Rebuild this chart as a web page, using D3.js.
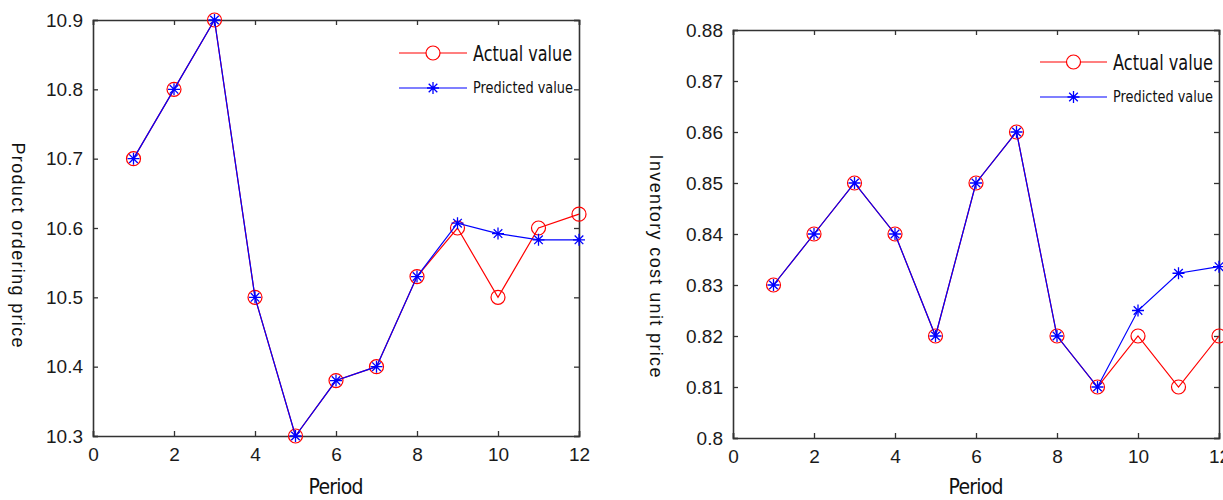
<!DOCTYPE html>
<html><head><meta charset="utf-8">
<script src="https://cdn.jsdelivr.net/npm/d3@7/dist/d3.min.js"></script>
<style>
html,body{margin:0;padding:0;background:#fff;overflow:hidden;}
svg{display:block;}
.tick text{font-family:"Liberation Sans",Arial,sans-serif;font-size:19px;fill:#1a1a1a;}
.lbl{font-family:"Liberation Sans Narrow","DejaVu Sans Condensed",sans-serif;fill:#111;}
</style>
</head><body>
<svg id="c" width="1223" height="500"></svg>
<script>
const periods = [1,2,3,4,5,6,7,8,9,10,11,12];
const orderActual    = [10.7,10.8,10.9,10.5,10.3,10.38,10.4,10.53,10.6,10.5,10.6,10.62];
const orderPredicted = [10.7,10.8,10.9,10.5,10.3,10.38,10.4,10.53,10.607,10.592,10.583,10.583];
const costActual     = [0.83,0.84,0.85,0.84,0.82,0.85,0.86,0.82,0.81,0.82,0.81,0.82];
const costPredicted  = [0.83,0.84,0.85,0.84,0.82,0.85,0.86,0.82,0.81,0.825,0.8323,0.8336];
const xTicks = [0,2,4,6,8,10,12];
const orderTicks = [10.3,10.4,10.5,10.6,10.7,10.8,10.9];
const costTicks = [0.8,0.81,0.82,0.83,0.84,0.85,0.86,0.87,0.88];
const seriesNames = ["Actual value","Predicted value"];
const xLabel = "Period";
const orderLabel = "Product ordering price";
const costLabel = "Inventory cost unit price";

const svg = d3.select("#c");
const RED = "#ff0000", BLUE = "#0000ff", AX = "#333";

function panel(opt){
  const g = svg.append("g");
  const x = d3.scaleLinear().domain([0,12]).range([opt.x0, opt.x1]);
  const y = d3.scaleLinear().domain(opt.yDomain).range([opt.y1, opt.y0]);
  const tk = 5;
  // axes
  const bx = g.append("g").attr("transform",`translate(0,${opt.y1})`)
    .call(d3.axisBottom(x).tickValues(xTicks).tickSize(-tk).tickPadding(12).tickFormat(d3.format("d")));
  const tx = g.append("g").attr("transform",`translate(0,${opt.y0})`)
    .call(d3.axisTop(x).tickValues(xTicks).tickSize(-tk).tickFormat(""));
  const ly = g.append("g").attr("transform",`translate(${opt.x0},0)`)
    .call(d3.axisLeft(y).tickValues(opt.yTicks).tickSize(-tk).tickPadding(10).tickFormat(opt.fmt));
  const ry = g.append("g").attr("transform",`translate(${opt.x1},0)`)
    .call(d3.axisRight(y).tickValues(opt.yTicks).tickSize(-tk).tickFormat(""));
  [bx,tx,ly,ry].forEach(a=>{
    a.select(".domain").attr("stroke",AX).attr("stroke-width",1.6);
    a.selectAll(".tick line").attr("stroke",AX).attr("stroke-width",1.3);
  });
  bx.selectAll(".tick text").attr("dy","0.71em");
  // lines
  const line = d3.line().x((d,i)=>x(periods[i])).y(d=>y(d));
  g.append("path").datum(opt.actual).attr("d",line).attr("fill","none").attr("stroke",RED).attr("stroke-width",1.2);
  g.selectAll(".circ").data(opt.actual).enter().append("circle")
    .attr("cx",(d,i)=>x(periods[i])).attr("cy",d=>y(d)).attr("r",7)
    .attr("fill","none").attr("stroke",RED).attr("stroke-width",1.2);
  g.append("path").datum(opt.pred).attr("d",line).attr("fill","none").attr("stroke",BLUE).attr("stroke-width",1.2);
  const s=6, s2=4.3;
  const star = `M${-s},0L${s},0M0,${-s}L0,${s}M${-s2},${-s2}L${s2},${s2}M${-s2},${s2}L${s2},${-s2}`;
  g.selectAll(".star").data(opt.pred).enter().append("path")
    .attr("transform",(d,i)=>`translate(${x(periods[i])},${y(d)})`)
    .attr("d",star).attr("fill","none").attr("stroke",BLUE).attr("stroke-width",1.3);
  // labels
  g.append("text").attr("class","lbl").attr("x",(opt.x0+opt.x1)/2).attr("y",494)
    .attr("text-anchor","middle").style("font-size","21px").attr("textLength",55).text(xLabel);
  g.append("text").attr("class","lbl")
    .attr("transform",`translate(${opt.ylx},${opt.ylc}) rotate(90)`)
    .attr("text-anchor","middle").style("font-family","'Liberation Sans',Arial,sans-serif")
    .style("font-size","18px").attr("textLength",opt.ylLen).text(opt.ylabel);
  // legend
  const L = opt.leg;
  const items = [{c:RED,m:"o",y:L.y1,size:"22px",len:L.len1},{c:BLUE,m:"*",y:L.y2,size:"15px",len:L.len2}];
  items.forEach((it,i)=>{
    g.append("line").attr("x1",L.xa).attr("x2",L.xb).attr("y1",it.y).attr("y2",it.y).attr("stroke",it.c).attr("stroke-width",1.2);
    const cx=(L.xa+L.xb)/2;
    if(it.m==="o") g.append("circle").attr("cx",cx).attr("cy",it.y).attr("r",7).attr("fill","#fff").attr("stroke",it.c).attr("stroke-width",1.2);
    else g.append("path").attr("transform",`translate(${cx},${it.y})`).attr("d",star).attr("fill","none").attr("stroke",it.c).attr("stroke-width",1.3);
    g.append("text").attr("class","lbl").attr("x",L.tx).attr("y",it.y).attr("dy","0.35em")
      .style("font-size",it.size).attr("textLength",it.len).attr("lengthAdjust","spacingAndGlyphs").text(seriesNames[i]);
  });
}

panel({x0:93,x1:579,y0:20,y1:436,yDomain:[10.3,10.9],yTicks:orderTicks,fmt:d3.format(".1f"),
  actual:orderActual,pred:orderPredicted,ylabel:orderLabel,ylx:12,ylc:245,ylLen:205,
  leg:{xa:399,xb:467,tx:473,y1:53,y2:88,len1:99,len2:100}});
panel({x0:733,x1:1219,y0:30,y1:438,yDomain:[0.8,0.88],yTicks:costTicks,fmt:d=>d3.format(".2~f")(d),
  actual:costActual,pred:costPredicted,ylabel:costLabel,ylx:650,ylc:266,ylLen:223,
  leg:{xa:1040,xb:1107,tx:1113,y1:62,y2:97,len1:100,len2:100}});
</script>
</body></html>
